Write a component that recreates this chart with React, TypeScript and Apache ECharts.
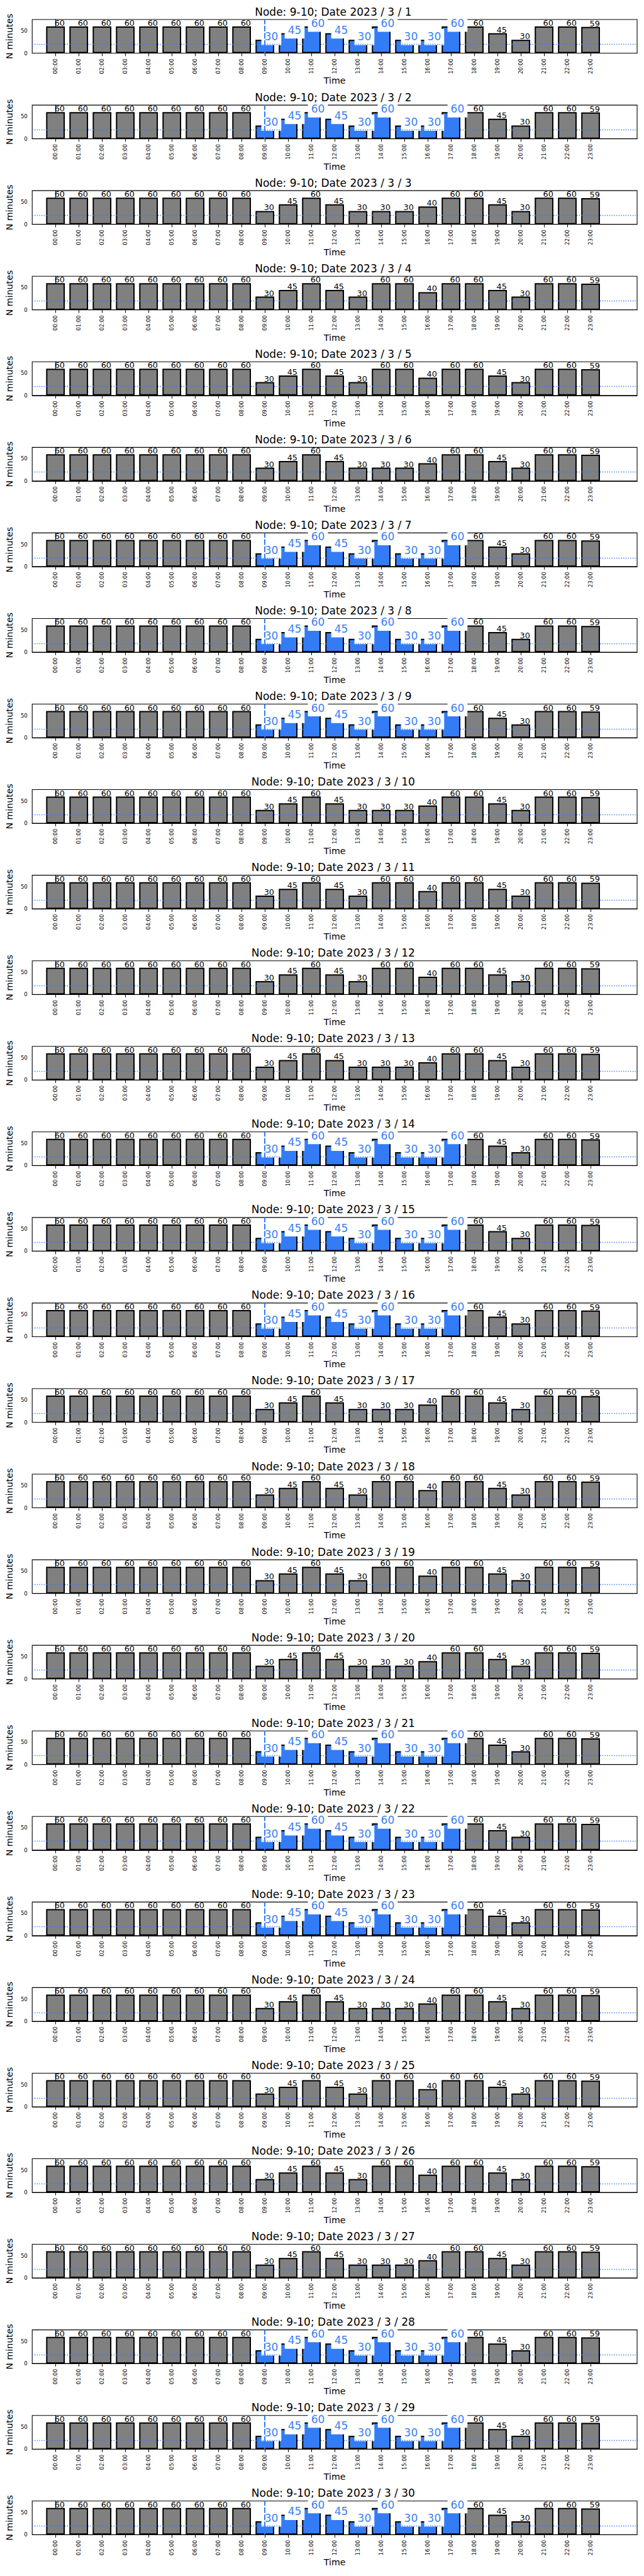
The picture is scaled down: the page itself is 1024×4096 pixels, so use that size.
import React, { useEffect, useRef } from "react";
import * as echarts from "echarts";

// ---------------- data ----------------
const hours = [
  "00:00", "01:00", "02:00", "03:00", "04:00", "05:00", "06:00", "07:00",
  "08:00", "09:00", "10:00", "11:00", "12:00", "13:00", "14:00", "15:00",
  "16:00", "17:00", "18:00", "19:00", "20:00", "21:00", "22:00", "23:00",
];
// 00:00 - 08:00
const nightValues = [60, 60, 60, 60, 60, 60, 60, 60, 60];
// 18:00 - 23:00
const eveningValues = [60, 45, 30, 60, 60, 59];
// 09:00 - 17:00 profiles
const profileA = [30, 45, 60, 45, 30, 60, 30, 30, 60]; // highlighted days
const profileB = [30, 45, 60, 45, 30, 30, 30, 40, 60];
const profileC = [30, 45, 60, 45, 30, 60, 60, 40, 60];
const dayNumbers = [
  1, 2, 3, 4, 5, 6, 7, 8, 9, 10, 11, 12, 13, 14, 15,
  16, 17, 18, 19, 20, 21, 22, 23, 24, 25, 26, 27, 28, 29, 30,
];
const dayProfiles = [
  "A", "A", "B", "C", "C", "B", "A", "A", "A", "B", "C", "C", "B", "A", "A",
  "A", "B", "C", "C", "B", "A", "A", "A", "B", "C", "C", "B", "A", "A", "A",
];
const highlightStartHour = 9;
const highlightEndHour = 17;
const thresholdMinutes = 20;
const nodeName = "9-10";
const year = 2023;
const month = 3;
const yTickValues = [0, 50];
const yMax = 75.6;
const xMin = -1;
const xMax = 25;

// ---------------- style ----------------
const K = 0.682;
const FONT = "DejaVu Sans";
const GRAY = "#808080";
const BLUE = "#337cf6";
const BLUE_TEXT = "#3a80f6";
const W = 1024;
const H = 4096;

function profileFor(p: string) {
  return p === "A" ? profileA : p === "B" ? profileB : profileC;
}

function buildOption() {
  const grids: any[] = [];
  const xAxes: any[] = [];
  const yAxes: any[] = [];
  const series: any[] = [];
  const titles: any[] = [];
  const hourIdx = hours.map((_, i) => i);

  const gridLeft = 68.4 * K;
  const gridRight = W - 1485.4 * K;
  const gridH = 78.5 * K;
  const pitch = 199.5 * K;
  const top0 = 45.5 * K;
  const barW = 0.8 * ((1485.4 - 68.4) / (xMax - xMin)) * K;

  dayNumbers.forEach((day, i) => {
    const prof = dayProfiles[i];
    const highlighted = prof === "A";
    const values = [...nightValues, ...profileFor(prof), ...eveningValues];
    const top = top0 + pitch * i;

    grids.push({
      left: gridLeft,
      right: gridRight,
      top,
      height: gridH,
      show: true,
      borderColor: "#000",
      borderWidth: 1.1,
      backgroundColor: "transparent",
    });
    titles.push({
      text: `Node: ${nodeName}; Date ${year} / ${month} / ${day}`,
      left: gridLeft + (W - gridRight - gridLeft) / 2,
      textAlign: "center",
      top: top - 21,
      padding: 0,
      textStyle: { fontFamily: FONT, fontSize: 17, fontWeight: "normal", color: "#000" },
    });
    xAxes.push({
      type: "value",
      gridIndex: i,
      min: xMin,
      max: xMax,
      interval: 1,
      name: "Time",
      nameLocation: "middle",
      nameGap: 36,
      nameTextStyle: { fontFamily: FONT, fontSize: 14.2, color: "#000" },
      splitLine: { show: false },
      axisLine: { show: true, lineStyle: { color: "#000", width: 1.1 } },
      axisTick: { show: true, length: 4.8, customValues: hourIdx, lineStyle: { color: "#000", width: 1 } },
      axisLabel: {
        show: true,
        customValues: hourIdx,
        rotate: 90,
        margin: 8.5,
        fontFamily: FONT,
        fontSize: 8.5,
        color: "#000",
        formatter: (v: number) => hours[Math.round(v)] ?? "",
      },
    });
    yAxes.push({
      type: "value",
      gridIndex: i,
      min: 0,
      max: yMax,
      name: "N minutes",
      nameLocation: "middle",
      nameGap: 25,
      nameRotate: 90,
      nameTextStyle: { fontFamily: FONT, fontSize: 14.2, color: "#000" },
      splitLine: { show: false },
      axisLine: { show: true, lineStyle: { color: "#000", width: 1.1 } },
      axisTick: { show: true, length: 4.8, customValues: yTickValues, lineStyle: { color: "#000", width: 1 } },
      axisLabel: {
        show: true,
        customValues: yTickValues,
        margin: 7.5,
        fontFamily: FONT,
        fontSize: 8.5,
        color: "#000",
      },
    });

    const markData: any[] = [
      {
        yAxis: thresholdMinutes,
        lineStyle: { color: BLUE, width: 1.4, type: [1.4, 2.3] },
      },
    ];
    if (highlighted) {
      markData.push({
        xAxis: highlightStartHour,
        lineStyle: { color: BLUE, width: 2, type: [9, 2.5] },
      });
    }
    series.push({
      type: "line",
      xAxisIndex: i,
      yAxisIndex: i,
      data: [],
      z: 1,
      silent: true,
      markLine: {
        silent: true,
        symbol: "none",
        label: { show: false },
        animation: false,
        data: markData,
      },
    });

    series.push({
      type: "bar",
      xAxisIndex: i,
      yAxisIndex: i,
      barWidth: barW,
      z: 2,
      data: values.map((v, h) => {
        const isBlue = highlighted && h >= highlightStartHour && h <= highlightEndHour;
        return {
          value: [h, v],
          itemStyle: { color: isBlue ? BLUE : GRAY, borderColor: "#000", borderWidth: 2 },
          label: isBlue
            ? {
                show: true,
                position: ["50%", 0],
                align: "left",
                verticalAlign: "bottom",
                offset: [-5.5, 8.5],
                fontFamily: FONT,
                fontSize: 17,
                color: BLUE_TEXT,
                backgroundColor: "#fff",
                padding: [4, 5, 5, 5],
                formatter: () => String(v),
              }
            : {
                show: true,
                position: ["50%", 0],
                align: "left",
                verticalAlign: "bottom",
                offset: [-1.5, 1],
                fontFamily: FONT,
                fontSize: 12.8,
                color: "#000",
                formatter: () => String(v),
              },
        };
      }),
    });
  });

  return {
    animation: false,
    backgroundColor: "#fff",
    textStyle: { fontFamily: FONT },
    title: titles,
    grid: grids,
    xAxis: xAxes,
    yAxis: yAxes,
    series,
  };
}

export default function App() {
  const ref = useRef<HTMLDivElement>(null);
  useEffect(() => {
    if (!ref.current) return;
    const chart = echarts.init(ref.current, null, { renderer: "svg" });
    chart.setOption(buildOption() as any);
    return () => chart.dispose();
  }, []);
  return (
    <div
      ref={ref}
      style={{ position: "absolute", left: 0, top: 0, width: W, height: H, background: "#fff" }}
    />
  );
}
